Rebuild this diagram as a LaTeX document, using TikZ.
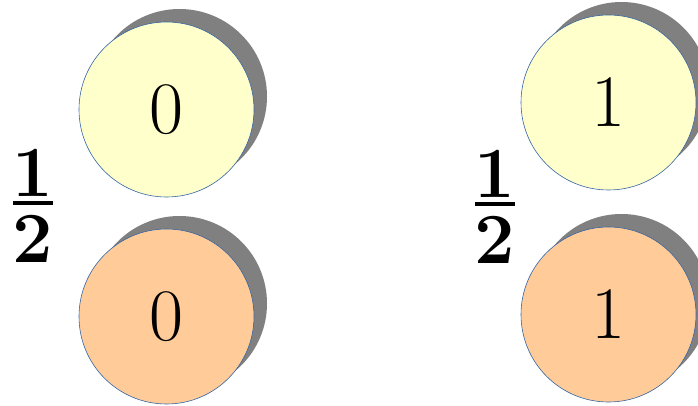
\documentclass[tikz,border=0pt]{standalone}
\usetikzlibrary{shadows}
\definecolor{lightyel}{HTML}{FFFFCC}
\definecolor{lightorg}{HTML}{FFCC99}
\definecolor{edgeblue}{HTML}{3465A4}
\definecolor{shadowgray}{HTML}{808080}
\tikzset{
  ball/.style={circle, minimum size=175pt, inner sep=0pt, draw=edgeblue, line width=0.6pt,
    drop shadow={shadow xshift=13pt, shadow yshift=13pt, fill=shadowgray, opacity=1},
    font=\fontsize{74}{80}\selectfont},
  yball/.style={ball, fill=lightyel},
  oball/.style={ball, fill=lightorg},
  fracnode/.style={anchor=north, inner sep=0pt, font=\fontsize{72}{72}\selectfont\bfseries}
}
\newcommand{\halfbold}{\vbox{\offinterlineskip\hbox to 40pt{\hss 1\hss}\kern5pt\hrule height 3.4pt\kern10pt\hbox to 40pt{\hss 2\hss}}}
\begin{document}
\begin{tikzpicture}[x=1pt,y=-1pt]
\useasboundingbox (0,0) rectangle (698,406);
\node[yball] (a0) at (166.5,109.5) {0};
\node[oball] (b0) at (166.5,316.5) {0};
\node[yball] (a1) at (608.5,102.5) {1};
\node[oball] (b1) at (608.5,314.5) {1};
\node[fracnode] (h0) at (33,149) {\halfbold};
\node[fracnode] (h1) at (495,150) {\halfbold};
\end{tikzpicture}
\end{document}
